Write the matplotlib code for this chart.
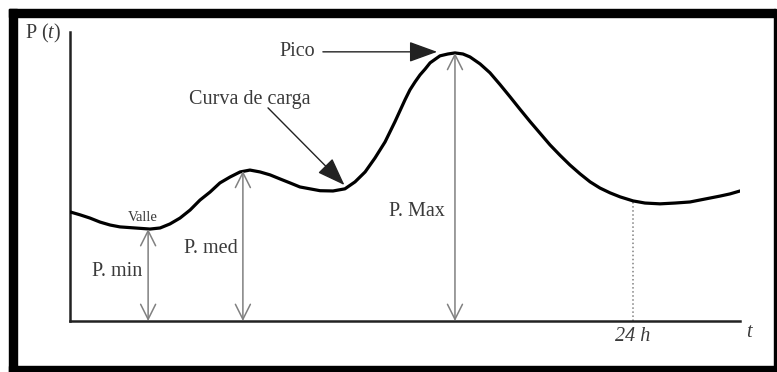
import matplotlib
matplotlib.use('Agg')
import matplotlib.pyplot as plt
from matplotlib.patches import Rectangle

plt.rcParams['font.family'] = ['Liberation Serif', 'DejaVu Serif']
plt.rcParams['mathtext.fontset'] = 'custom'
plt.rcParams['mathtext.rm'] = 'Liberation Serif'
plt.rcParams['mathtext.it'] = 'Liberation Serif:italic'

# Load curve (hours, power in % of peak)
hours = [0, 0.43, 0.85, 1.28, 1.71, 2.13, 2.77, 3.41, 3.84, 4.26, 4.69, 5.12,
         5.54, 5.97, 6.39, 6.82, 7.25, 7.67, 8.10, 8.53, 8.95, 9.38, 9.80,
         10.23, 10.66, 11.21, 11.72, 12.15, 12.58, 13.00, 13.43, 13.85, 14.28,
         14.49, 14.71, 14.92, 15.14, 15.35, 15.77, 16.11, 16.41, 16.75, 17.05,
         17.48, 17.90, 18.33, 18.76, 19.18, 19.61, 20.04, 20.46, 20.89, 21.31,
         21.74, 22.17, 22.59, 23.02, 23.45, 24.0, 24.51, 25.15, 25.79, 26.43,
         27.07, 27.71, 28.13, 28.56]
power = [40.7, 39.6, 38.4, 36.9, 35.8, 35.1, 34.7, 34.3, 34.7, 36.2, 38.4, 41.4,
         45.1, 48.1, 51.5, 53.7, 55.6, 56.3, 55.6, 54.5, 53.0, 51.5, 50.0,
         49.3, 48.6, 48.5, 49.3, 51.9, 55.6, 60.8, 66.8, 74.3, 82.5,
         86.2, 89.2, 91.8, 94.0, 96.3, 98.9, 99.6, 100.0, 99.6, 98.5,
         95.9, 92.6, 88.2, 83.6, 79.0, 74.4, 70.0, 65.7, 61.8, 58.2,
         54.9, 51.9, 49.6, 47.8, 46.3, 44.8, 44.0, 43.7, 44.0, 44.4,
         45.5, 46.6, 47.4, 48.5]

# marked levels
t_min, p_min = 3.33, 34.3
t_med, p_med = 7.37, 56.0
t_max, p_max = 16.41, 100.0
t_day, p_day = 24.0, 44.8

txt = '#3a3a3a'
grey = '#808080'

fig = plt.figure(figsize=(7.77, 3.72), dpi=100)

# picture frame
W, H = 777, 372
for (x0, y0, w, h) in [(9, 9, 766, 8), (9, 9, 8, 363), (9, 366, 768, 6), (774, 9, 2, 363)]:
    fig.patches.append(Rectangle((x0 / W, 1 - (y0 + h) / H), w / W, h / H,
                                 transform=fig.transFigure, color='black', zorder=0))

ax = fig.add_axes([70 / W, 51 / H, 670 / W, 289 / H])
ax.set_xlim(0, 28.56)
ax.set_ylim(0, 107.8)
for s in ['top', 'right']:
    ax.spines[s].set_visible(False)
for s in ['left', 'bottom']:
    ax.spines[s].set_linewidth(1.8)
    ax.spines[s].set_color('#222222')
ax.set_xticks([])
ax.set_yticks([])
ax.patch.set_alpha(0)

ax.plot(hours, power, color='black', lw=2.3, solid_capstyle='round',
        solid_joinstyle='round', zorder=3)

# double arrows
for t, p in [(t_min, p_min), (t_med, p_med), (t_max, p_max)]:
    ax.annotate('', xy=(t, 0), xytext=(t, p),
                arrowprops=dict(arrowstyle='<->,head_length=0.6,head_width=0.3',
                                color=grey, lw=1.1, shrinkA=0, shrinkB=0,
                                mutation_scale=18))

ax.plot([t_day, t_day], [0, p_day], color=grey, lw=1.1, ls=':')

fs = 14.5
ax.text(3.11, 38.6, 'Valle', fontsize=10.5, color=txt, ha='center', va='center')
ax.text(2.0, 18.3, 'P. min', fontsize=fs, color=txt, ha='center', va='center')
ax.text(6.0, 27.2, 'P. med', fontsize=fs, color=txt, ha='center', va='center')
ax.text(14.8, 41.0, 'P. Max', fontsize=fs, color=txt, ha='center', va='center')
ax.text(24.0, -5.6, '24 h', fontsize=fs, color=txt, ha='center', va='center',
        style='italic', clip_on=False)
ax.text(28.95, -4.3, 't', fontsize=fs, color=txt, ha='center', va='center',
        style='italic', clip_on=False)

ax.text(9.68, 100.4, 'Pico', fontsize=fs, color=txt, ha='center', va='center')
ax.annotate('', xy=(15.65, 100.4), xytext=(10.78, 100.4),
            arrowprops=dict(arrowstyle='-|>,head_length=1.1,head_width=0.4',
                            color='#222222', lw=1.0, shrinkA=0, shrinkB=0,
                            mutation_scale=16))

ax.text(7.67, 82.5, 'Curva de carga', fontsize=fs, color=txt, ha='center', va='center')
ax.annotate('', xy=(11.7, 50.7), xytext=(8.44, 79.5),
            arrowprops=dict(arrowstyle='-|>,head_length=1.1,head_width=0.4',
                            color='#222222', lw=1.0, shrinkA=0, shrinkB=0,
                            mutation_scale=16))

fig.text(43 / W, 1 - 33 / H, r'P ($\mathit{t}$)', fontsize=fs, color=txt,
         ha='center', va='center')

fig.savefig('out.png', dpi=100)
